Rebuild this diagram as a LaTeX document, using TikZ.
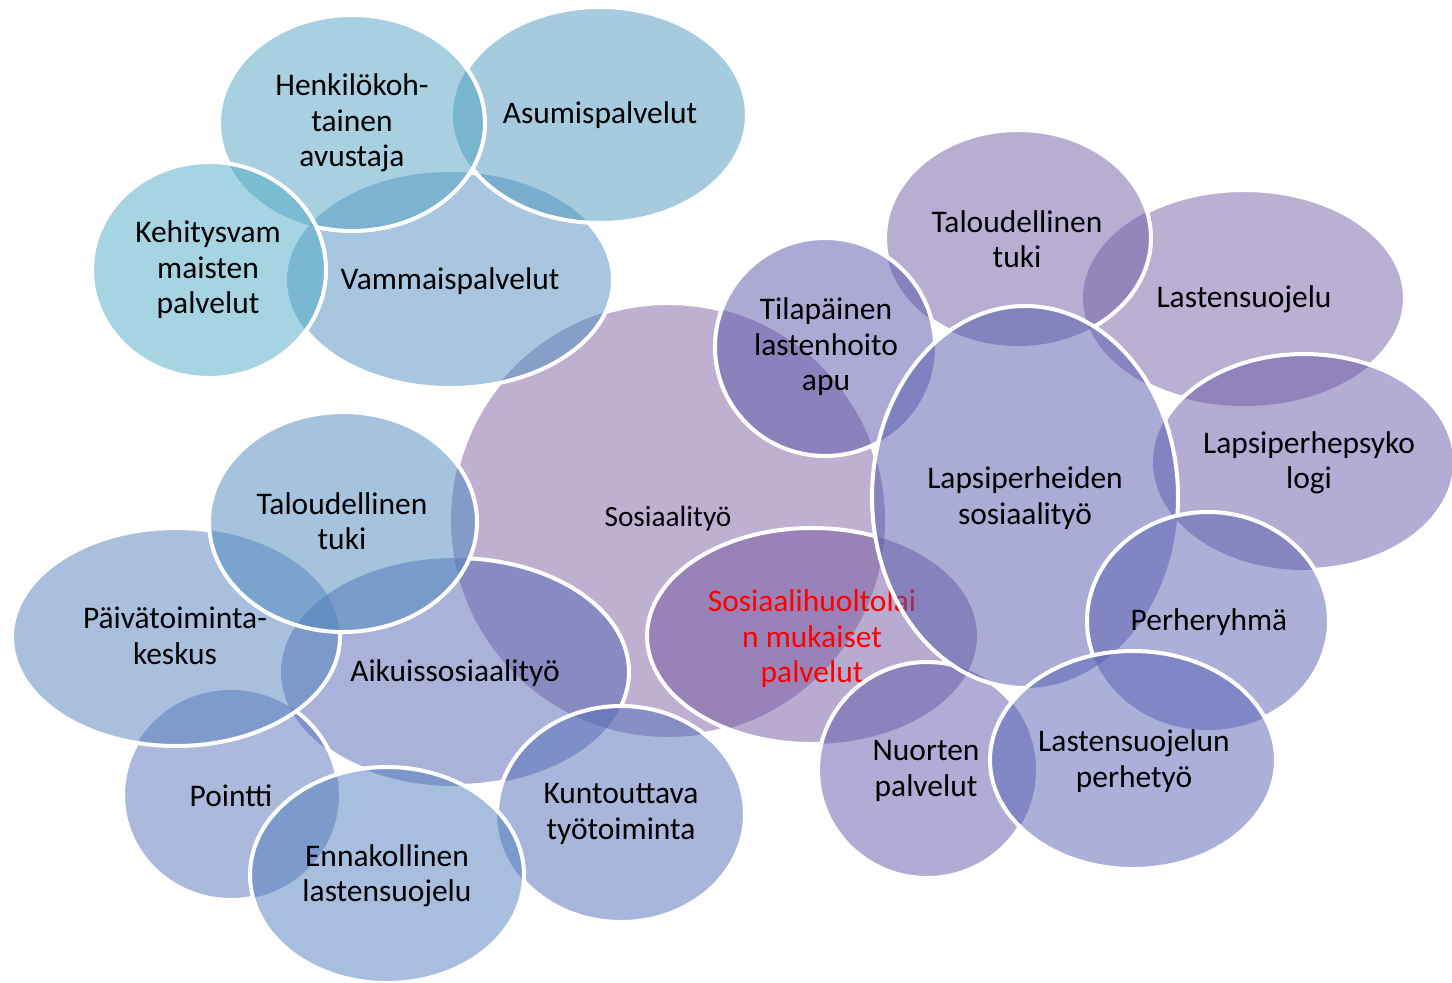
\documentclass[tikz,border=0pt]{standalone}
\usepackage{fontspec}
\setmainfont{Carlito}
\usepackage{tikz}

\definecolor{cSosiaali}{RGB}{127,97,163}
\definecolor{cVammais}{RGB}{81,141,193}
\definecolor{cAsumis}{RGB}{77,151,189}
\definecolor{cHenkilo}{RGB}{81,161,193}
\definecolor{cKehitys}{RGB}{77,169,197}
\definecolor{cAikuis}{RGB}{85,101,181}
\definecolor{cKuntouttava}{RGB}{81,109,185}
\definecolor{cPointti}{RGB}{85,115,185}
\definecolor{cEnnakollinen}{RGB}{81,125,189}
\definecolor{cPaiva}{RGB}{81,129,189}
\definecolor{cTalousA}{RGB}{77,135,189}
\definecolor{cShl}{RGB}{115,85,161}
\definecolor{cNuorten}{RGB}{97,89,173}
\definecolor{cLastensuojelu}{RGB}{117,97,165}
\definecolor{cTalousB}{RGB}{111,93,165}
\definecolor{cTilapainen}{RGB}{89,85,171}
\definecolor{cPsyko}{RGB}{105,89,169}
\definecolor{cLapsi}{RGB}{85,89,173}
\definecolor{cPerhe}{RGB}{89,95,177}
\definecolor{cPerhetyo}{RGB}{85,97,181}
\definecolor{cRed}{RGB}{255,0,0}

\tikzset{
  bub/.style={fill opacity=0.5},
  rim/.style={draw=white, line width=3pt},
  lbl/.style={align=center, inner sep=0pt, text=black, font=\fontsize{23.6}{26.6}\selectfont},
  hidden/.style={even odd rule},
}

% bubble outlines
\def\shpSosiaali{(668,520) ellipse [x radius=217, y radius=217]}
\def\shpVammais{(450,280) ellipse [x radius=163, y radius=108]}
\def\shpAsumis{(600,115) ellipse [x radius=147, y radius=108]}
\def\shpHenkilo{(352,123) ellipse [x radius=133, y radius=108]}
\def\shpKehitys{(209,270) ellipse [x radius=117, y radius=108]}
\def\shpAikuis{(455,672) ellipse [x radius=174, y radius=114]}
\def\shpKuntouttava{(621,814) ellipse [x radius=124, y radius=108]}
\def\shpPointti{(231,795) ellipse [x radius=108, y radius=105]}
\def\shpEnnakollinen{(387,875) ellipse [x radius=137, y radius=108]}
\def\shpPaiva{(176,637) ellipse [x radius=164, y radius=109]}
\def\shpTalousA{(343,522) ellipse [x radius=134, y radius=110]}
\def\shpShl{(812,636) ellipse [x radius=165, y radius=108]}
\def\shpNuorten{(927,770) ellipse [x radius=109, y radius=108]}
\def\shpLastensuojelu{(1244,298) ellipse [x radius=161, y radius=108]}
\def\shpTalousB{(1018,238) ellipse [x radius=133, y radius=108]}
\def\shpTilapainen{(825,347) ellipse [x radius=110, y radius=109]}
\def\shpPsyko{(1304,462) ellipse [x radius=151, y radius=108]}
\def\shpLapsi{(1025,497) ellipse [x radius=153, y radius=191]}
\def\shpPerhe{(1208,621) ellipse [x radius=121, y radius=109]}
\def\shpPerhetyo{(1133,760) ellipse [x radius=143, y radius=109]}

% hide an outline where a later bubble lies on top (use inside a [hidden] scope)
\newcommand\cutaway[1]{\clip (-20,-20) rectangle (1480,1010) #1;}

\begin{document}
\begin{tikzpicture}[x=0.75pt,y=0.75pt,yscale=-1,xscale=1]
\useasboundingbox (0,0) rectangle (1452,982);
\clip (0,0) rectangle (1452,982);

%Shape: Ellipse [Sosiaalityö]
\fill[bub, fill=cSosiaali] \shpSosiaali;
\begin{scope}[hidden]
\cutaway{\shpVammais}\cutaway{\shpAikuis}\cutaway{\shpKuntouttava}\cutaway{\shpTalousA}
\cutaway{\shpShl}\cutaway{\shpTilapainen}\cutaway{\shpLapsi}
\draw[rim] \shpSosiaali;
\end{scope}
% Text Node
\draw (668,519) node (sosiaali) [lbl, font=\fontsize{22}{25}\selectfont] {Sosiaalityö};

%Shape: Ellipse [Vammaispalvelut]
\fill[bub, fill=cVammais] \shpVammais;
\begin{scope}[hidden]
\cutaway{\shpAsumis}\cutaway{\shpHenkilo}\cutaway{\shpKehitys}
\draw[rim] \shpVammais;
\end{scope}
% Text Node
\draw (450,281) node (vammais) [lbl] {Vammaispalvelut};

%Shape: Ellipse [Asumispalvelut]
\fill[bub, fill=cAsumis] \shpAsumis;
\begin{scope}[hidden]
\cutaway{\shpHenkilo}
\draw[rim] \shpAsumis;
\end{scope}
% Text Node
\draw (600,115) node (asumis) [lbl] {Asumispalvelut};

%Shape: Ellipse [Henkilökohtainen avustaja]
\fill[bub, fill=cHenkilo] \shpHenkilo;
\begin{scope}[hidden]
\cutaway{\shpKehitys}
\draw[rim] \shpHenkilo;
\end{scope}
% Text Node
\draw (352,123) node (henkilo) [lbl] {Henkilökoh-\\tainen\\avustaja};

%Shape: Ellipse [Kehitysvammaisten palvelut]
\fill[bub, fill=cKehitys] \shpKehitys;
\draw[rim] \shpKehitys;
% Text Node
\draw (208,270) node (kehitys) [lbl] {Kehitysvam\\maisten\\palvelut};

%Shape: Ellipse [Aikuissosiaalityö]
\fill[bub, fill=cAikuis] \shpAikuis;
\begin{scope}[hidden]
\cutaway{\shpKuntouttava}\cutaway{\shpPointti}\cutaway{\shpEnnakollinen}
\cutaway{\shpPaiva}\cutaway{\shpTalousA}
\draw[rim] \shpAikuis;
\end{scope}
% Text Node
\draw (455,673) node (aikuis) [lbl] {Aikuissosiaalityö};

%Shape: Ellipse [Kuntouttava työtoiminta]
\fill[bub, fill=cKuntouttava] \shpKuntouttava;
\begin{scope}[hidden]
\cutaway{\shpEnnakollinen}
\draw[rim] \shpKuntouttava;
\end{scope}
% Text Node
\draw (621,814) node (kuntouttava) [lbl] {Kuntouttava\\työtoiminta};

%Shape: Ellipse [Pointti]
\fill[bub, fill=cPointti] \shpPointti;
\begin{scope}[hidden]
\cutaway{\shpEnnakollinen}\cutaway{\shpPaiva}
\draw[rim] \shpPointti;
\end{scope}
% Text Node
\draw (231,796) node (pointti) [lbl] {Pointti};

%Shape: Ellipse [Ennakollinen lastensuojelu]
\fill[bub, fill=cEnnakollinen] \shpEnnakollinen;
\draw[rim] \shpEnnakollinen;
% Text Node
\draw (387,876) node (ennakollinen) [lbl] {Ennakollinen\\lastensuojelu};

%Shape: Ellipse [Päivätoimintakeskus]
\fill[bub, fill=cPaiva] \shpPaiva;
\begin{scope}[hidden]
\cutaway{\shpTalousA}
\draw[rim] \shpPaiva;
\end{scope}
% Text Node
\draw (175,636) node (paiva) [lbl] {Päivätoiminta-\\keskus};

%Shape: Ellipse [Taloudellinen tuki, left]
\fill[bub, fill=cTalousA] \shpTalousA;
\draw[rim] \shpTalousA;
% Text Node
\draw (342,521) node (talousA) [lbl] {Taloudellinen\\tuki};

%Shape: Ellipse [Sosiaalihuoltolain mukaiset palvelut]
\fill[bub, fill=cShl] \shpShl;
\begin{scope}[hidden]
\cutaway{\shpNuorten}\cutaway{\shpLapsi}
\draw[rim] \shpShl;
\end{scope}
% Text Node
\draw (812,639) node (shl) [lbl, text=cRed] {Sosiaalihuoltolai\\n mukaiset\\palvelut};

%Shape: Ellipse [Nuorten palvelut]
\fill[bub, fill=cNuorten] \shpNuorten;
\begin{scope}[hidden]
\cutaway{\shpLapsi}\cutaway{\shpPerhetyo}
\draw[rim] \shpNuorten;
\end{scope}
% Text Node
\draw (926,771) node (nuorten) [lbl] {Nuorten\\palvelut};

%Shape: Ellipse [Lastensuojelu]
\fill[bub, fill=cLastensuojelu] \shpLastensuojelu;
\begin{scope}[hidden]
\cutaway{\shpTalousB}\cutaway{\shpPsyko}\cutaway{\shpLapsi}
\draw[rim] \shpLastensuojelu;
\end{scope}
% Text Node
\draw (1244,299) node (lastensuojelu) [lbl] {Lastensuojelu};

%Shape: Ellipse [Taloudellinen tuki, right]
\fill[bub, fill=cTalousB] \shpTalousB;
\begin{scope}[hidden]
\cutaway{\shpTilapainen}\cutaway{\shpLapsi}
\draw[rim] \shpTalousB;
\end{scope}
% Text Node
\draw (1017,239) node (talousB) [lbl] {Taloudellinen\\tuki};

%Shape: Ellipse [Tilapäinen lastenhoitoapu]
\fill[bub, fill=cTilapainen] \shpTilapainen;
\begin{scope}[hidden]
\cutaway{\shpLapsi}
\draw[rim] \shpTilapainen;
\end{scope}
% Text Node
\draw (826,347) node (tilapainen) [lbl] {Tilapäinen\\lastenhoito\\apu};

%Shape: Ellipse [Lapsiperhepsykologi]
\fill[bub, fill=cPsyko] \shpPsyko;
\begin{scope}[hidden]
\cutaway{\shpLapsi}\cutaway{\shpPerhe}
\draw[rim] \shpPsyko;
\end{scope}
% Text Node
\draw (1309,463) node (psyko) [lbl] {Lapsiperhepsyko\\logi};

%Shape: Ellipse [Lapsiperheiden sosiaalityö]
\fill[bub, fill=cLapsi] \shpLapsi;
\begin{scope}[hidden]
\cutaway{\shpPerhe}\cutaway{\shpPerhetyo}
\draw[rim] \shpLapsi;
\end{scope}
% Text Node
\draw (1025,498) node (lapsi) [lbl] {Lapsiperheiden\\sosiaalityö};

%Shape: Ellipse [Perheryhmä]
\fill[bub, fill=cPerhe] \shpPerhe;
\begin{scope}[hidden]
\cutaway{\shpPerhetyo}
\draw[rim] \shpPerhe;
\end{scope}
% Text Node
\draw (1209,622) node (perhe) [lbl] {Perheryhmä};

%Shape: Ellipse [Lastensuojelun perhetyö]
\fill[bub, fill=cPerhetyo] \shpPerhetyo;
\draw[rim] \shpPerhetyo;
% Text Node
\draw (1134,761) node (perhetyo) [lbl] {Lastensuojelun\\perhetyö};

\end{tikzpicture}
\end{document}
